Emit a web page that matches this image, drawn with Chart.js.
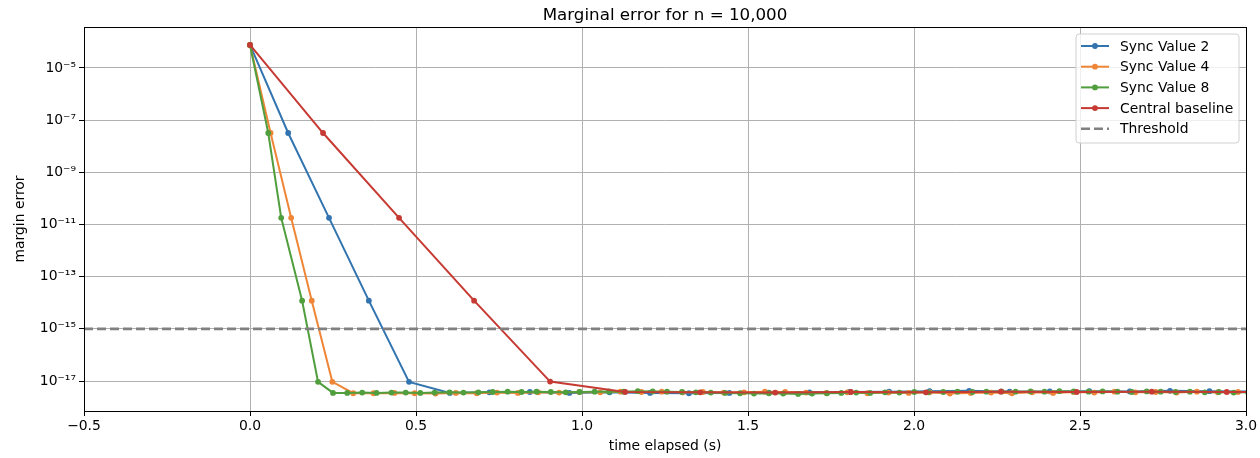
<!DOCTYPE html>
<html>
<head>
<meta charset="utf-8">
<script src="https://cdn.jsdelivr.net/npm/chart.js@4"></script>
<style>
  html, body { margin: 0; padding: 0; background: #fff; }
  #wrap { width: 1260px; height: 458px; }
</style>
</head>
<body>
<div id="wrap"><canvas id="myChart" width="1260" height="458"></canvas></div>
<script>
// data
var seriesNames = ['Sync Value 2', 'Sync Value 4', 'Sync Value 8', 'Central baseline'];

var sync2X = [0, 0.115, 0.238, 0.358, 0.479, 0.602, 0.721, 0.843, 0.962, 1.083, 1.205, 1.322, 1.444,
  1.563, 1.685, 1.806, 1.925, 2.047, 2.166, 2.288, 2.409, 2.528, 2.650, 2.771, 2.890, 3.012];
var sync2Y = [7.6e-5, 3.2e-8, 1.8e-11, 1.2e-14, 9.3e-18, 3.5e-18, 3.7e-18, 3.8e-18, 3.5e-18, 3.7e-18,
  3.5e-18, 3.4e-18, 3.5e-18, 3.6e-18, 3.7e-18, 3.8e-18, 3.9e-18, 4.1e-18, 4.2e-18, 3.9e-18, 4.0e-18,
  4.1e-18, 4.0e-18, 4.2e-18, 4.1e-18, 4.0e-18];

var sync4X = [0, 0.062, 0.124, 0.186, 0.248, 0.311, 0.372, 0.435, 0.496, 0.559, 0.620, 0.683, 0.744,
  0.807, 0.868, 0.931, 0.992, 1.055, 1.116, 1.179, 1.240, 1.303, 1.364, 1.427, 1.488, 1.551, 1.612,
  1.675, 1.736, 1.799, 1.860, 1.923, 1.984, 2.047, 2.108, 2.171, 2.232, 2.295, 2.356, 2.419, 2.480,
  2.543, 2.604, 2.667, 2.728, 2.791, 2.852, 2.915, 2.976, 3.038];
var sync4Y = [7.6e-5, 3.2e-8, 1.8e-11, 1.2e-14, 9.3e-18,
  3.4e-18, 3.4e-18, 3.5e-18, 3.4e-18, 3.3e-18, 3.5e-18, 3.4e-18, 3.6e-18, 3.5e-18, 3.7e-18,
  3.6e-18, 3.8e-18, 3.7e-18, 3.9e-18, 3.8e-18, 3.9e-18, 3.7e-18, 3.8e-18, 3.6e-18, 3.7e-18,
  3.9e-18, 3.8e-18, 3.6e-18, 3.5e-18, 3.7e-18, 3.4e-18, 3.6e-18, 3.5e-18, 3.7e-18, 3.3e-18,
  3.5e-18, 3.6e-18, 3.4e-18, 3.7e-18, 3.5e-18, 3.8e-18, 3.6e-18, 3.9e-18, 3.7e-18, 3.8e-18,
  3.6e-18, 3.9e-18, 3.7e-18, 3.8e-18, 3.7e-18];

var sync8X = [0, 0.055, 0.094, 0.157, 0.205, 0.250, 0.293, 0.338, 0.381, 0.426, 0.469, 0.513, 0.556,
  0.601, 0.643, 0.688, 0.731, 0.776, 0.818, 0.863, 0.906, 0.951, 0.993, 1.038, 1.081, 1.126, 1.168,
  1.213, 1.256, 1.301, 1.343, 1.388, 1.431, 1.476, 1.518, 1.563, 1.606, 1.651, 1.693, 1.738, 1.781,
  1.826, 1.868, 1.913, 1.956, 2.001, 2.043, 2.088, 2.131, 2.176, 2.218, 2.263, 2.306, 2.351, 2.393,
  2.438, 2.481, 2.526, 2.568, 2.613, 2.656, 2.701, 2.743, 2.788, 2.831, 2.876, 2.918, 2.963, 3.006];
var sync8Y = [7.6e-5, 3.2e-8, 1.8e-11, 1.2e-14, 9.3e-18,
  3.5e-18, 3.5e-18, 3.6e-18, 3.5e-18, 3.6e-18, 3.6e-18, 3.5e-18, 3.6e-18, 3.7e-18, 3.6e-18,
  3.7e-18, 3.8e-18, 3.9e-18, 3.8e-18, 3.9e-18, 3.8e-18, 3.7e-18, 3.8e-18, 3.9e-18, 4.0e-18,
  3.9e-18, 4.1e-18, 4.0e-18, 3.9e-18, 3.8e-18, 3.7e-18, 3.6e-18, 3.5e-18, 3.4e-18, 3.3e-18,
  3.4e-18, 3.3e-18, 3.2e-18, 3.3e-18, 3.4e-18, 3.5e-18, 3.6e-18, 3.5e-18, 3.7e-18, 3.6e-18,
  3.8e-18, 3.7e-18, 3.8e-18, 3.9e-18, 3.8e-18, 3.9e-18, 4.0e-18, 3.9e-18, 4.0e-18, 3.9e-18,
  4.1e-18, 4.0e-18, 3.9e-18, 4.0e-18, 3.9e-18, 3.8e-18, 4.0e-18, 3.9e-18, 3.8e-18, 3.9e-18,
  3.7e-18, 3.8e-18, 3.6e-18, 3.7e-18];

var centralX = [0, 0.220, 0.449, 0.675, 0.904, 1.130, 1.356, 1.582, 1.810, 2.036, 2.262, 2.490, 2.716, 2.942, 3.168];
var centralY = [7.6e-5, 3.2e-8, 1.8e-11, 1.2e-14, 9.5e-18, 3.8e-18, 3.7e-18, 3.6e-18, 3.8e-18, 3.7e-18,
  3.9e-18, 3.8e-18, 3.9e-18, 3.8e-18, 3.8e-18];

var threshold = 1e-15;

var xTickValues = [-0.5, 0.0, 0.5, 1.0, 1.5, 2.0, 2.5, 3.0];
var xTickLabels = ['\u22120.5', '0.0', '0.5', '1.0', '1.5', '2.0', '2.5', '3.0'];
var yTickValues = [1e-5, 1e-7, 1e-9, 1e-11, 1e-13, 1e-15, 1e-17];
var yTickLabels = ['10\u207B\u2075', '10\u207B\u2077', '10\u207B\u2079', '10\u207B\u00B9\u00B9',
  '10\u207B\u00B9\u00B3', '10\u207B\u00B9\u2075', '10\u207B\u00B9\u2077'];

var colors = ['#3274af', '#ef8536', '#509e3d', '#c63a33'];

var titleText = 'Marginal error for n = 10,000';

function toPoints(xs, ys) {
  return xs.map(function (x, i) { return { x: x, y: ys[i] }; });
}

var FONT = 'DejaVu Sans';
var FS = 13.9;

// title centred over the axes, like matplotlib
var axesTitle = {
  id: 'axesTitle',
  afterDraw: function (chart) {
    var a = chart.chartArea, ctx = chart.ctx;
    ctx.save();
    ctx.font = '16.7px "' + FONT + '"';
    ctx.fillStyle = '#000';
    ctx.textAlign = 'center';
    ctx.textBaseline = 'alphabetic';
    ctx.fillText(titleText, (a.left + a.right) / 2, a.top - 7);
    ctx.restore();
  }
};

// matplotlib style legend drawn inside the axes
var boxLegend = {
  id: 'boxLegend',
  afterDraw: function (chart) {
    var ctx = chart.ctx;
    var x0 = 1076, y0 = 34, w = 163, h = 109, r = 3;
    ctx.save();
    ctx.beginPath();
    ctx.moveTo(x0 + r, y0);
    ctx.arcTo(x0 + w, y0, x0 + w, y0 + h, r);
    ctx.arcTo(x0 + w, y0 + h, x0, y0 + h, r);
    ctx.arcTo(x0, y0 + h, x0, y0, r);
    ctx.arcTo(x0, y0, x0 + w, y0, r);
    ctx.closePath();
    ctx.fillStyle = 'rgba(255,255,255,0.8)';
    ctx.fill();
    ctx.strokeStyle = '#d0d0d0';
    ctx.lineWidth = 1;
    ctx.stroke();

    ctx.font = FS + 'px "' + FONT + '"';
    ctx.textBaseline = 'middle';
    chart.data.datasets.forEach(function (ds, i) {
      var y = 46 + i * 20.7;
      ctx.beginPath();
      ctx.strokeStyle = ds.borderColor;
      ctx.lineWidth = ds.borderWidth;
      ctx.setLineDash(ds.borderDash || []);
      ctx.moveTo(1081, y);
      ctx.lineTo(1109, y);
      ctx.stroke();
      ctx.setLineDash([]);
      if (ds.pointRadius > 0) {
        ctx.beginPath();
        ctx.fillStyle = ds.borderColor;
        ctx.arc(1095, y, ds.pointRadius, 0, Math.PI * 2);
        ctx.fill();
      }
      ctx.fillStyle = '#000';
      ctx.fillText(ds.label, 1120, y + 1);
    });
    ctx.restore();
  }
};

// black frame round the axes
var frame = {
  id: 'frame',
  afterDatasetsDraw: function (chart) {
    var a = chart.chartArea, ctx = chart.ctx;
    ctx.save();
    ctx.strokeStyle = '#000';
    ctx.lineWidth = 1;
    ctx.strokeRect(Math.round(a.left) + 0.5, Math.round(a.top) + 0.5,
      Math.round(a.right - a.left), Math.round(a.bottom - a.top));
    ctx.restore();
  }
};

function lineSet(i, xs, ys) {
  return {
    label: seriesNames[i],
    data: toPoints(xs, ys),
    borderColor: colors[i],
    backgroundColor: colors[i],
    borderWidth: 2,
    pointRadius: 2.9,
    pointHoverRadius: 2.9,
    pointBorderWidth: 0,
    order: 4 - i
  };
}

var ctx = document.getElementById('myChart').getContext('2d');
var myChart = new Chart(ctx, {
  type: 'line',
  data: {
    datasets: [
      lineSet(0, sync2X, sync2Y),
      lineSet(1, sync4X, sync4Y),
      lineSet(2, sync8X, sync8Y),
      lineSet(3, centralX, centralY),
      {
        label: 'Threshold',
        data: [{ x: -0.5, y: threshold }, { x: 3.0, y: threshold }],
        borderColor: '#808080',
        backgroundColor: '#808080',
        borderWidth: 2.6,
        borderDash: [9, 4],
        pointRadius: 0,
        order: 0
      }
    ]
  },
  options: {
    responsive: false,
    animation: false,
    events: [],
    layout: { padding: { left: 0, right: 14, top: 27, bottom: 0 } },
    plugins: {
      legend: { display: false },
      tooltip: { enabled: false },
      title: { display: false }
    },
    scales: {
      x: {
        type: 'linear',
        min: -0.5,
        max: 3.0,
        afterBuildTicks: function (scale) {
          scale.ticks = xTickValues.map(function (v) { return { value: v }; });
        },
        afterFit: function (scale) { scale.height = 47; },
        ticks: {
          color: '#000',
          font: { family: FONT, size: FS },
          padding: 2,
          maxRotation: 0,
          callback: function (v) {
            var k = xTickValues.indexOf(v);
            return k >= 0 ? xTickLabels[k] : '';
          }
        },
        grid: { color: '#b0b0b0', lineWidth: 1, tickColor: '#000', tickLength: 5 },
        border: { color: '#000' },
        title: {
          display: true,
          text: 'time elapsed (s)',
          color: '#000',
          font: { family: FONT, size: FS },
          padding: { top: 0, bottom: 3 }
        }
      },
      y: {
        type: 'logarithmic',
        min: 7.1e-19,
        max: 3.7e-4,
        afterBuildTicks: function (scale) {
          scale.ticks = yTickValues.map(function (v) { return { value: v }; });
        },
        afterFit: function (scale) { scale.width = 84; },
        ticks: {
          color: '#000',
          font: { family: FONT, size: FS },
          padding: 3,
          callback: function (v) {
            for (var k = 0; k < yTickValues.length; k++) {
              if (Math.abs(Math.log10(v) - Math.log10(yTickValues[k])) < 1e-6) return yTickLabels[k];
            }
            return '';
          }
        },
        grid: { color: '#b0b0b0', lineWidth: 1, tickColor: '#000', tickLength: 5 },
        border: { color: '#000' },
        title: {
          display: true,
          text: 'margin error',
          color: '#000',
          font: { family: FONT, size: FS },
          padding: { top: 12, bottom: 0 }
        }
      }
    }
  },
  plugins: [frame, boxLegend, axesTitle]
});
</script>
</body>
</html>
